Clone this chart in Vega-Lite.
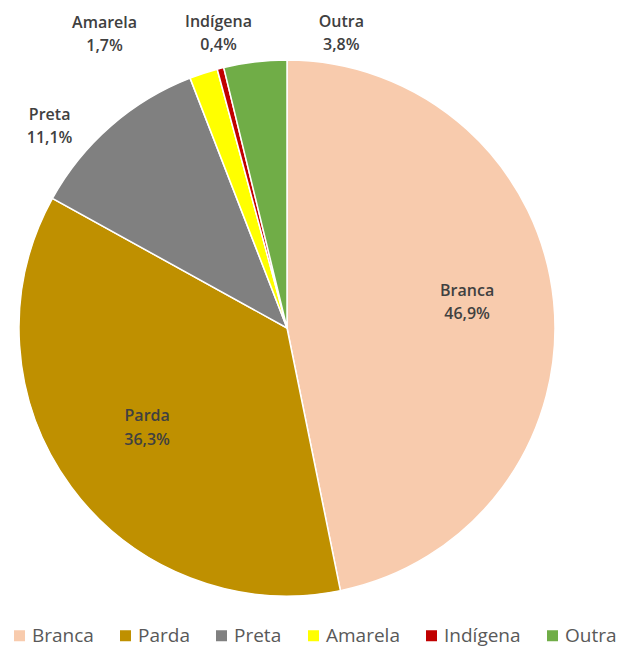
{
  "$schema": "https://vega.github.io/schema/vega-lite/v6.json",
  "width": 574,
  "height": 656,
  "autosize": "none",
  "padding": {"left": 0, "top": 0, "right": 51, "bottom": 0},
  "background": "white",
  "config": {"view": {"stroke": null}},
  "data": {"values": [
    {"cat": "Branca", "value": 46.9, "label": "Branca\n46,9%", "k": 1},
    {"cat": "Parda", "value": 36.3, "label": "Parda\n36,3%", "k": 2},
    {"cat": "Preta", "value": 11.1, "label": "Preta\n11,1%", "k": 3},
    {"cat": "Amarela", "value": 1.7, "label": "Amarela\n1,7%", "k": 4},
    {"cat": "Indígena", "value": 0.4, "label": "Indígena\n0,4%", "k": 5},
    {"cat": "Outra", "value": 3.8, "label": "Outra\n3,8%", "k": 6}
  ]},
  "encoding": {
    "theta": {"field": "value", "type": "quantitative", "stack": true},
    "order": {"field": "k", "type": "quantitative"}
  },
  "layer": [
    {
      "mark": {"type": "arc", "outerRadius": 268, "stroke": "white", "strokeWidth": 1.5},
      "encoding": {
        "color": {
          "field": "cat", "type": "nominal",
          "scale": {"domain": ["Branca", "Parda", "Preta", "Amarela", "Indígena", "Outra"],
                    "range": ["#F8CBAD", "#BF9000", "#808080", "#FFFF00", "#C00000", "#70AD47"]},
          "legend": {
            "title": null, "orient": "none", "direction": "horizontal",
            "legendX": 10, "legendY": 626, "symbolType": "square", "symbolSize": 121,
            "symbolStrokeWidth": 0, "labelFont": "Open Sans", "labelFontSize": 19,
            "labelColor": "#595959", "columnPadding": 22, "labelOffset": 3
          }
        }
      }
    },
    {
      "mark": {"type": "text", "radius": 176, "dx": 5, "dy": -19, "font": "Open Sans", "fontWeight": 600, "fontSize": 16, "color": "#404040", "lineBreak": "\n", "lineHeight": 23},
      "encoding": {"text": {"condition": {"test": "datum.k == 1", "field": "label"}, "value": ""}}
    },
    {
      "mark": {"type": "text", "radius": 176, "dx": 2, "dy": -16, "font": "Open Sans", "fontWeight": 600, "fontSize": 16, "color": "#404040", "lineBreak": "\n", "lineHeight": 24},
      "encoding": {"text": {"condition": {"test": "datum.k == 2", "field": "label"}, "value": ""}}
    },
    {
      "mark": {"type": "text", "radius": 300, "dx": -40, "dy": 13, "font": "Open Sans", "fontWeight": 600, "fontSize": 16, "color": "#404040", "lineBreak": "\n", "lineHeight": 23},
      "encoding": {"text": {"condition": {"test": "datum.k == 3", "field": "label"}, "value": ""}}
    },
    {
      "mark": {"type": "text", "radius": 300, "dx": -89, "dy": -20, "font": "Open Sans", "fontWeight": 600, "fontSize": 16, "color": "#404040", "lineBreak": "\n", "lineHeight": 23},
      "encoding": {"text": {"condition": {"test": "datum.k == 4", "field": "label"}, "value": ""}}
    },
    {
      "mark": {"type": "text", "radius": 300, "dx": 6, "dy": -15, "font": "Open Sans", "fontWeight": 600, "fontSize": 16, "color": "#404040", "lineBreak": "\n", "lineHeight": 23},
      "encoding": {"text": {"condition": {"test": "datum.k == 5", "field": "label"}, "value": ""}}
    },
    {
      "mark": {"type": "text", "radius": 300, "dx": 90, "dy": -8, "font": "Open Sans", "fontWeight": 600, "fontSize": 16, "color": "#404040", "lineBreak": "\n", "lineHeight": 23},
      "encoding": {"text": {"condition": {"test": "datum.k == 6", "field": "label"}, "value": ""}}
    }
  ]
}
